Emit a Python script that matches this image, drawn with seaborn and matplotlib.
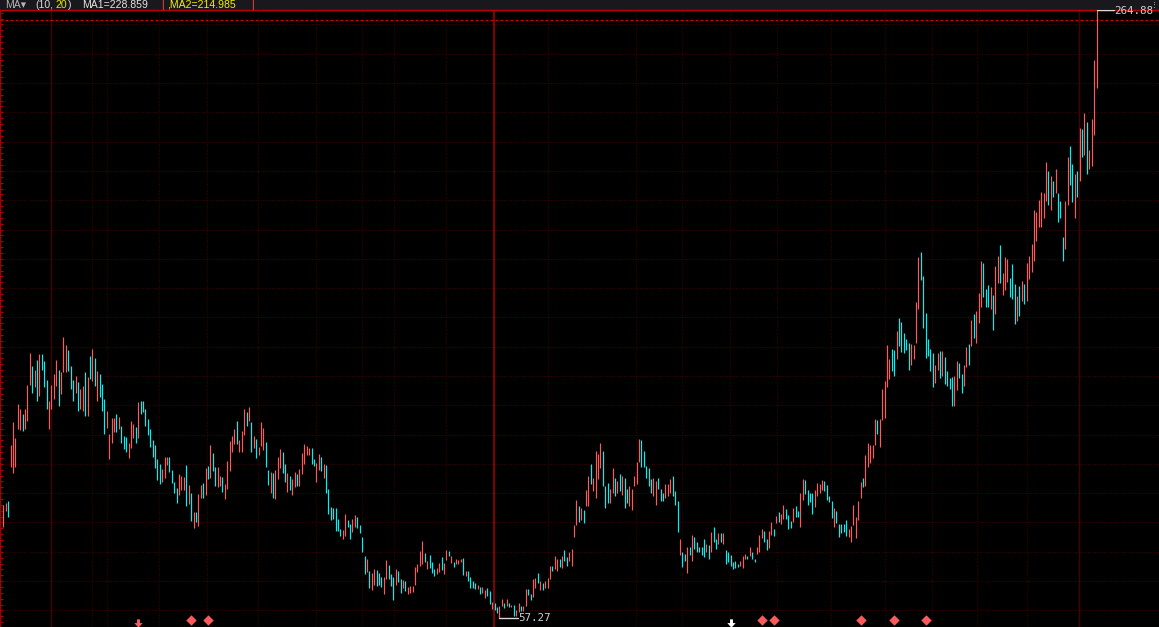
import numpy as np
import pandas as pd
import matplotlib
matplotlib.use("Agg")
import matplotlib.pyplot as plt
from matplotlib.patches import Rectangle
import seaborn as sns

# Daily bars (high / low) from left to right
highs = [
    95.9, 96.6, 97.5, 116.3, 124.2, 118.7, 130.3, 128.6, 127.2, 128.6,
    137.1, 148.0, 143.5, 142.2, 145.6, 147.6, 147.6, 145.2, 138.8, 131.3,
    137.1, 140.8, 145.6, 142.2, 141.2, 153.4, 150.7, 149.0, 143.5, 138.8,
    140.1, 137.8, 135.4, 136.7, 141.5, 139.5, 146.9, 149.3, 146.3, 141.8,
    140.8, 137.4, 132.0, 128.2, 120.1, 125.5, 125.5, 126.9, 125.9, 123.1,
    119.4, 119.1, 117.0, 124.5, 123.5, 122.5, 131.0, 131.3, 131.3, 128.6,
    125.2, 121.8, 118.0, 116.3, 111.6, 109.9, 108.2, 112.2, 112.2, 112.2,
    107.8, 103.7, 101.7, 106.5, 105.8, 105.4, 109.5, 102.7, 100.0, 93.5,
    93.5, 99.7, 102.7, 103.4, 108.5, 109.2, 116.3, 113.6, 108.8, 108.8,
    105.8, 105.4, 103.1, 110.9, 117.7, 119.4, 121.8, 124.8, 118.0, 121.1,
    128.9, 127.6, 129.3, 124.2, 119.4, 118.4, 115.6,
    124.4, 122.4, 117.6, 108.0, 107.3, 106.9, 108.0, 112.4, 115.2, 114.1,
    110.0, 106.9, 105.9, 104.9, 107.3, 106.6, 108.3, 113.8, 116.9, 116.2,
    115.5, 115.5, 111.7, 110.4, 113.4, 112.4, 110.0, 109.7, 101.5, 95.3,
    94.9, 94.9, 91.2, 87.8, 87.4, 92.9, 90.8, 89.5, 91.2, 92.6,
    91.9, 89.1, 85.0, 78.5, 77.5, 73.4, 72.7, 74.1, 73.7, 72.7,
    71.3, 71.3, 77.1, 75.4, 72.5, 71.3, 74.1, 73.4, 70.6, 70.3,
    69.9, 67.9, 68.2, 68.2, 74.8, 75.8, 80.2, 83.7, 79.5, 76.8,
    78.9, 76.5, 74.1, 74.4, 76.1, 78.2, 76.1, 80.6, 80.2, 78.5,
    76.5, 77.5, 77.1, 77.5, 77.8, 73.4, 73.4, 71.3, 69.9, 69.3,
    68.6, 67.9, 67.9, 66.9, 67.6, 66.5, 62.8, 62.4, 61.0, 61.4,
    63.8, 62.4, 63.8, 62.4,
    62.0, 62.0, 60.0, 62.4, 61.4, 61.4, 67.2, 67.2, 65.5, 70.6,
    71.2, 72.6, 69.9, 69.5, 69.9, 71.2, 75.3, 75.0, 78.4, 77.7,
    77.4, 78.4, 80.5, 78.1, 79.8, 81.1, 89.0, 97.8, 95.5, 94.8,
    94.1, 101.2, 106.0, 109.8, 105.3, 114.5, 113.5, 117.3, 114.5, 102.3,
    103.6, 101.6, 108.7, 105.3, 104.0, 106.7, 105.7, 105.3, 101.6, 102.6,
    101.6, 106.0, 110.5, 118.6, 118.0, 114.5, 109.4, 108.7, 104.7, 105.3,
    104.3, 105.3, 101.6, 100.2, 103.0, 103.0, 104.7, 105.7, 100.9, 97.5,
    84.2, 80.1, 79.4, 81.8, 81.8, 85.6, 84.9, 83.5, 81.8, 81.5,
    84.2, 82.5, 82.2, 86.9, 88.6, 84.5, 86.3, 86.3, 86.3, 80.5,
    79.8, 78.8, 76.4, 76.7, 75.7, 77.0, 78.4, 79.1, 78.4, 81.5,
    79.8, 77.7, 81.5, 85.6,
    87.7, 87.1, 84.3, 87.1, 90.1, 87.7, 92.2, 93.6, 92.9, 96.0,
    94.6, 92.5, 90.5, 94.9, 95.6, 93.9, 100.1, 104.9, 104.5, 101.1,
    100.1, 100.1, 101.1, 103.5, 103.1, 104.5, 104.2, 102.8, 99.0, 97.3,
    94.9, 93.9, 89.5, 89.5, 89.5, 90.8, 87.7, 88.8, 96.0, 91.9,
    97.3, 103.8, 105.2, 113.0, 117.2, 116.5, 116.5, 125.4, 125.0, 125.4,
    135.6, 138.4, 150.7, 145.9, 149.3, 149.0, 155.5, 159.9, 158.6, 154.8,
    152.8, 151.4, 151.0, 150.7, 165.4, 180.5, 182.2, 174.3, 161.6, 152.8,
    149.3, 148.0, 143.9, 148.0, 148.6, 148.6, 146.6, 141.8, 139.4, 139.7,
    140.1, 145.2, 144.5, 140.8, 143.9, 150.0, 151.0, 159.2, 161.3, 162.3,
    168.5, 179.4, 178.7, 169.8, 170.9, 170.5, 167.8, 177.4, 181.1, 184.6,
    175.0, 180.5, 179.9, 173.3,
    178.1, 171.4, 167.3, 170.7, 172.4, 171.4, 178.5,
    181.1, 184.9, 196.8, 196.1, 200.2, 202.9, 202.6, 213.2, 210.1, 208.4,
    206.7, 210.8, 202.3, 199.9, 187.3, 199.9, 214.9, 218.6, 212.2, 209.1,
    210.1, 224.8, 224.4, 229.9, 226.8, 217.3, 227.8, 247.9, 264.88,
]

lows = [
    88.5, 93.9, 92.0, 108.9, 106.9, 108.9, 121.8, 121.5, 121.4, 121.8,
    124.8, 137.1, 134.3, 136.1, 131.6, 133.3, 142.2, 136.1, 128.6, 121.8,
    128.6, 132.3, 136.7, 129.9, 134.0, 141.2, 141.2, 141.8, 135.7, 131.3,
    134.3, 128.2, 128.6, 128.2, 126.2, 126.5, 139.1, 138.4, 136.7, 131.6,
    133.0, 128.2, 120.1, 122.1, 111.6, 117.0, 120.8, 120.8, 121.8, 117.3,
    115.0, 113.9, 111.9, 115.3, 118.7, 117.0, 118.7, 127.2, 127.6, 122.8,
    119.7, 115.6, 112.2, 108.5, 104.4, 103.1, 103.7, 105.1, 109.5, 107.1,
    103.4, 100.0, 96.6, 99.3, 101.0, 101.0, 95.6, 96.3, 90.5, 88.1,
    90.1, 88.8, 98.3, 98.3, 99.3, 104.8, 105.1, 107.5, 102.4, 102.0,
    102.4, 100.3, 98.0, 101.4, 107.5, 113.9, 116.7, 116.7, 113.9, 113.9,
    119.7, 123.1, 124.8, 114.0, 115.3, 111.9, 112.9,
    116.2, 114.6, 108.8, 102.8, 100.1, 98.4, 98.0, 104.9, 108.7, 106.9,
    103.9, 100.4, 101.1, 99.4, 102.1, 102.5, 102.5, 106.6, 110.0, 113.1,
    113.1, 110.0, 109.3, 103.9, 108.0, 107.6, 105.2, 100.1, 92.9, 90.8,
    91.2, 87.1, 87.1, 85.4, 84.3, 85.4, 88.4, 84.3, 86.7, 88.4,
    88.1, 86.4, 79.9, 72.3, 73.0, 67.6, 66.9, 68.6, 68.2, 68.6,
    67.9, 65.5, 70.6, 70.6, 68.2, 63.4, 68.6, 69.6, 65.8, 67.6,
    66.5, 65.5, 65.8, 66.2, 68.6, 73.0, 75.1, 75.8, 76.5, 74.1,
    74.4, 72.7, 71.7, 72.3, 73.0, 73.7, 72.3, 77.1, 78.5, 76.1,
    74.8, 75.8, 75.8, 76.5, 72.0, 71.7, 69.9, 67.6, 67.6, 67.2,
    67.2, 65.5, 65.8, 64.1, 64.8, 62.1, 60.4, 60.0, 59.0, 57.27,
    61.4, 60.7, 61.4, 61.0,
    61.0, 58.0, 58.0, 59.3, 59.7, 59.7, 61.4, 65.1, 63.7, 64.4,
    67.5, 69.5, 66.8, 66.8, 67.8, 67.8, 70.6, 73.3, 74.0, 73.6,
    74.7, 74.3, 76.7, 75.0, 76.7, 75.0, 85.2, 89.3, 90.3, 91.0,
    89.7, 95.5, 95.5, 103.3, 100.6, 98.2, 104.7, 108.7, 102.3, 95.1,
    96.8, 96.5, 100.2, 98.9, 99.9, 100.6, 99.5, 95.1, 96.8, 95.5,
    94.4, 102.3, 103.3, 110.8, 109.1, 109.1, 105.3, 102.3, 100.2, 98.9,
    96.1, 101.6, 97.2, 97.5, 98.2, 99.2, 99.9, 99.2, 96.1, 86.9,
    78.8, 74.7, 76.7, 72.6, 78.8, 77.0, 81.1, 79.8, 80.1, 78.8,
    78.1, 79.8, 77.7, 80.1, 83.2, 80.8, 82.5, 83.5, 82.5, 75.7,
    76.4, 75.3, 74.0, 74.3, 74.7, 75.3, 74.3, 77.4, 77.4, 78.4,
    77.4, 76.4, 79.4, 80.1,
    84.7, 83.3, 80.6, 81.2, 85.7, 85.4, 89.8, 90.1, 89.5, 91.2,
    91.2, 87.7, 88.1, 90.1, 91.9, 91.9, 88.4, 97.7, 99.7, 96.0,
    97.0, 92.9, 95.3, 99.0, 100.1, 101.1, 100.8, 97.7, 97.0, 91.5,
    88.4, 89.8, 85.0, 86.4, 86.7, 85.4, 85.0, 83.3, 89.1, 84.7,
    90.8, 98.4, 102.1, 102.4, 109.0, 110.3, 112.0, 116.5, 120.2, 115.8,
    125.0, 125.7, 136.3, 139.1, 141.8, 140.1, 145.9, 150.3, 148.3, 148.0,
    149.0, 142.1, 143.9, 145.9, 151.4, 163.0, 172.9, 156.5, 146.2, 146.9,
    141.8, 136.3, 137.7, 142.1, 139.4, 140.1, 137.4, 136.7, 135.6, 129.8,
    129.8, 135.3, 139.4, 134.3, 136.7, 143.2, 143.9, 150.4, 153.1, 151.4,
    158.2, 163.7, 167.1, 163.7, 163.4, 163.0, 155.8, 161.3, 171.6, 171.6,
    167.8, 169.5, 172.0, 167.1,
    166.3, 157.8, 158.8, 160.5, 165.6, 164.6, 165.6,
    173.0, 175.4, 179.4, 186.2, 191.0, 191.0, 193.8, 199.9, 198.5, 196.8,
    201.2, 202.3, 192.4, 194.1, 179.1, 183.2, 198.2, 205.3, 199.5, 194.1,
    201.2, 206.4, 214.9, 215.6, 209.1, 210.5, 211.8, 222.4, 238.4,
]

# u = close above open (red), d = close below open (cyan)
direction = "".join([
    "uuduuuuudu", "uudududddu", "uuuduuuddd", "uduudududu", "ddduuuudud",
    "dduuududdd", "dddddduuud", "ddduuududu", "duudududdu", "uduuuuuduu",
    "udududu",
    "uudduduuud", "duduuduuuu", "udduududdd", "dddduudduu", "dddduduudd",
    "duuddduddu", "duuuuuuudu", "ddduuduudu", "duuududddd", "uduudduddu",
    "udud",
    "uduuduuddu", "ududuuuduu", "dudduuuudu", "duuduuuudd", "duudududdu",
    "uuuudddddu", "uddduuuddd", "uddududddd", "dududdudud", "ddddduuudu",
    "dduu",
    "udduududuu", "dddudduudd", "dduuuudddd", "uddddduuuu", "uuduuuuudu",
    "uuuudduddd", "dduuuudddd", "dduududddd", "uudduududu", "uuddduduud",
    "uuud",
    "ddududu",
    "uuuuuuuudu", "duddduuddu", "dududuuuu",
])

# month separators, year separators and cursor (bar index units)
month_lines = [36.8, 43.1, 64.7, 84.6, 105.8, 129.9, 148.9, 162.2, 183.8,
               226.2, 262.8, 281.9, 301.8, 321.3, 343.7, 366.1, 385.7,
               404.4, 425.1]
year_lines = [19.8, 446.7]
cursor_bar = 203.8
cursor_price = 261.5
price_grid = list(range(60, 270, 10))

# signal markers under the bars
diamond_bars = [78, 85, 315, 320, 356, 370, 383]
red_arrow_bars = [56]
white_arrow_bars = [302]

# header text pieces: (text, x pixel, colour)
header = [
    ("MA\u25be", 5, "#b4b4b4"),
    ("(10,", 35, "#d8d8d8"),
    ("20", 55, "#e8e800"),
    (")", 68, "#d8d8d8"),
    ("MA1=228.859", 82, "#e4e4e4"),
    ("|", 161, "#ff4646"),
    (",MA2=214.985", 167, "#f0f000"),
    ("|", 251, "#ff4646"),
]

sns.set_style("dark", {"axes.facecolor": "black", "figure.facecolor": "black"})
plt.rcParams["font.family"] = ["Liberation Sans", "DejaVu Sans"]

df = pd.DataFrame({"high": highs, "low": lows, "dir": list(direction)})
df["i"] = np.arange(len(df))

W, H = 1159, 627
head_px = 9.5
step_px = 2.408
first_px = 3.3

fig = plt.figure(figsize=(W / 100, H / 100), dpi=100)
fig.add_artist(Rectangle((0, 1 - head_px / H), 1, head_px / H,
                         transform=fig.transFigure, color="#19191d", zorder=0))
ax = fig.add_axes([0, 0, 1, 1 - head_px / H])
ax.set_facecolor("black")
ax.grid(False)

# grid
dots = (0, (0.55, 1.7))
for p in price_grid:
    ax.axhline(p, color="#640000", lw=0.75, ls=dots, zorder=1)
for m in month_lines:
    ax.axvline(m, color="#640000", lw=0.75, ls=dots, zorder=1)
for y in year_lines:
    ax.axvline(y, color="#4a0000", lw=1.0, zorder=1)
ax.axvline(cursor_bar, color="#9c0000", lw=1.2, zorder=2)
ax.axhline(cursor_price, color="#d00000", lw=0.9, ls=(0, (2.4, 1.6)), zorder=2)

# bars
colors = np.where(df["dir"] == "u", "#ff5a5a", "#00f2f2")
ax.vlines(df["i"], df["low"], df["high"], colors=colors, lw=0.85, zorder=3)

# signals
arrow = [(-0.35, 1), (0.35, 1), (0.35, 0.1), (1, 0.1), (0, -1), (-1, 0.1), (-0.35, 0.1)]
sns.scatterplot(x=diamond_bars, y=[56.6] * len(diamond_bars), marker="D", s=28,
                color="#ff5a5a", linewidth=0, ax=ax, zorder=4)
sns.scatterplot(x=red_arrow_bars, y=[55.7] * len(red_arrow_bars), marker=arrow, s=36,
                color="#ff5a5a", linewidth=0, ax=ax, zorder=4)
sns.scatterplot(x=white_arrow_bars, y=[55.7] * len(white_arrow_bars), marker=arrow, s=36,
                color="#ffffff", linewidth=0, ax=ax, zorder=4)

# max / min labels
i_max = int(df["high"].idxmax())
i_min = int(df["low"].idxmin())
hi = df["high"].max()
lo = df["low"].min()
ax.plot([i_max, i_max + 7.2], [hi, hi], color="#d8d8d8", lw=1.0, zorder=5)
ax.text(i_max + 7.5, hi - 0.4, f"{hi:.2f}", color="#d0d0d0", fontsize=7.8,
        family="DejaVu Sans Mono", va="center", ha="left", zorder=5)
ax.plot([i_min, i_min + 7.8], [lo, lo], color="#d8d8d8", lw=1.0, zorder=5)
ax.text(i_min + 8.0, lo, f"{lo:.2f}", color="#d0d0d0", fontsize=7.8,
        family="DejaVu Sans Mono", va="center", ha="left", zorder=5)

ax.set_xlim(-first_px / step_px, (W - first_px) / step_px)
ax.set_ylim(54.33, 265.1)
ax.set_yticks(np.arange(56, 266, 2))
ax.set_xticks([])
ax.tick_params(axis="y", direction="in", length=2.5, width=0.8, color="#b00000",
               labelleft=False, left=True)
for side in ["right", "bottom"]:
    ax.spines[side].set_visible(False)
ax.spines["top"].set_color("#c00000")
ax.spines["top"].set_linewidth(1.0)
ax.spines["left"].set_color("#a00000")
ax.spines["left"].set_linewidth(1.0)
ax.set_xlabel("")
ax.set_ylabel("")

# header line
for txt, xp, col in header:
    fig.text(xp / W, 1 - 7.6 / H, txt, color=col, fontsize=7.6, va="baseline", ha="left")
fig.text(1151 / W, 1 - 1.0 / H, "\u22ee", color="#e0e0e0", fontsize=5, va="top", ha="left")

fig.savefig("out.png", dpi=100, facecolor="black")
